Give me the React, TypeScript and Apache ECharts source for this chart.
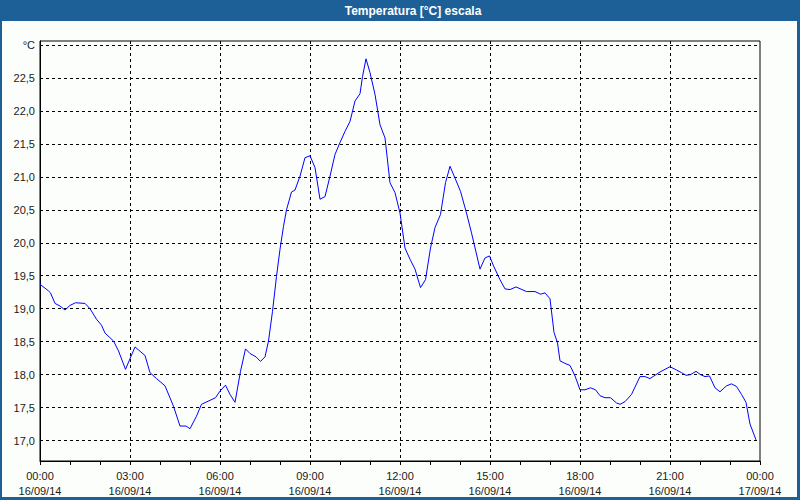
import React, { useEffect, useRef } from "react";
import * as echarts from "echarts";

// minutes since 16/09/14 00:00
const minutes = [
  0, 17, 21, 30, 40, 50, 60, 71, 90, 100, 113, 123, 130, 147, 157, 171, 190, 210, 220, 233,
  250, 267, 280, 292, 300, 313, 323, 340, 351, 360, 371, 380, 390, 401, 411, 420, 432, 441, 450, 457,
  465, 473, 480, 487, 493, 503, 510, 520, 530, 540, 550, 560, 570, 580, 590, 600, 610, 620, 630, 640,
  645, 652, 660, 670, 680, 690, 700, 710, 720, 730, 740, 750, 761, 771, 781, 790, 801, 811, 820, 830,
  841, 853, 863, 880, 890, 899, 907, 920, 930, 940, 952, 973, 990, 1001, 1010, 1020, 1028, 1035, 1040, 1050,
  1060, 1070, 1080, 1090, 1101, 1111, 1120, 1130, 1141, 1153, 1160, 1170, 1183, 1200, 1210, 1220, 1230, 1240, 1260, 1273,
  1283, 1292, 1301, 1312, 1321, 1330, 1339, 1350, 1360, 1373, 1383, 1393, 1403, 1412, 1420, 1432,
];
const temperatures = [
  19.37, 19.27, 19.24, 19.08, 19.04, 18.98, 19.05, 19.09, 19.08, 19.0, 18.84, 18.75, 18.63, 18.51, 18.36, 18.08, 18.42, 18.29, 18.03, 17.94,
  17.83, 17.52, 17.22, 17.22, 17.18, 17.37, 17.55, 17.61, 17.65, 17.75, 17.84, 17.7, 17.58, 18.05, 18.39, 18.32, 18.27, 18.2, 18.27, 18.51,
  18.96, 19.49, 19.9, 20.25, 20.5, 20.77, 20.8, 21.01, 21.29, 21.32, 21.14, 20.66, 20.7, 21.01, 21.34, 21.52, 21.69, 21.84, 22.15, 22.26,
  22.52, 22.79, 22.58, 22.25, 21.79, 21.59, 20.91, 20.76, 20.45, 19.92, 19.75, 19.6, 19.32, 19.44, 19.92, 20.23, 20.43, 20.91, 21.16, 20.98,
  20.78, 20.45, 20.15, 19.6, 19.77, 19.8, 19.65, 19.44, 19.3, 19.29, 19.33, 19.26, 19.26, 19.22, 19.24, 19.15, 18.64, 18.48, 18.21, 18.17,
  18.14, 17.98, 17.77, 17.77, 17.8, 17.77, 17.68, 17.65, 17.65, 17.57, 17.55, 17.59, 17.7, 17.97, 17.97, 17.94, 17.99, 18.04, 18.12, 18.07,
  18.03, 17.99, 18.0, 18.05, 18.0, 17.97, 17.98, 17.8, 17.74, 17.83, 17.86, 17.82, 17.7, 17.58, 17.25, 17.01,
];
const startDate = "16/09/14";
const endDate = "17/09/14";
const titleText = "Temperatura [°C] escala";
const unitLabel = "°C";

export default function App() {
  const ref = useRef<HTMLDivElement>(null);
  useEffect(() => {
    if (!ref.current) return;
    const chart = echarts.init(ref.current, undefined, { renderer: "svg" });
    const font = "Liberation Sans";
    chart.setOption({
      animation: false,
      backgroundColor: "#FCFEFC",
      textStyle: { fontFamily: font },
      graphic: [
        { type: "rect", shape: { x: 0, y: 0, width: 800, height: 21 }, style: { fill: "#1D5F97" }, z: 10 },
        { type: "rect", shape: { x: 0, y: 0, width: 2, height: 500 }, style: { fill: "#1D5F97" }, z: 10 },
        { type: "rect", shape: { x: 797, y: 0, width: 3, height: 500 }, style: { fill: "#1D5F97" }, z: 10 },
        { type: "rect", shape: { x: 0, y: 497, width: 800, height: 3 }, style: { fill: "#1D5F97" }, z: 10 },
        {
          type: "text",
          x: 413,
          y: 11,
          z: 11,
          style: {
            text: titleText,
            fill: "#FFFFFF",
            font: `bold 12px "${font}"`,
            align: "center",
            verticalAlign: "middle",
          },
        },
      ],
      grid: {
        left: 40,
        right: 40,
        top: 41,
        bottom: 39,
        show: true,
        borderColor: "#000",
        borderWidth: 1,
        backgroundColor: "transparent",
        containLabel: false,
      },
      xAxis: {
        type: "value",
        min: 0,
        max: 1440,
        interval: 180,
        axisLine: { show: true, lineStyle: { color: "#000", width: 1 } },
        axisTick: { show: true, length: 4, lineStyle: { color: "#000" } },
        minorTick: { show: true, splitNumber: 3, length: 4, lineStyle: { color: "#000" } },
        splitLine: {
          show: true,
          showMinLine: false,
          showMaxLine: false,
          lineStyle: { color: "#000", type: [3, 3], width: 1 },
        },
        axisLabel: {
          color: "#1a1a1a",
          fontSize: 11,
          fontFamily: font,
          lineHeight: 15,
          margin: 7,
          formatter: (v: number) => {
            const h = Math.floor(v / 60) % 24;
            const hh = String(h).padStart(2, "0");
            return `${hh}:00\n${v >= 1440 ? endDate : startDate}`;
          },
        },
      },
      yAxis: {
        type: "value",
        min: 16.69,
        max: 23.06,
        splitNumber: 12,
        minInterval: 0.5,
        maxInterval: 0.5,
        axisLine: { show: true, lineStyle: { color: "#000", width: 1 } },
        axisTick: { show: false },
        splitLine: {
          show: true,
          showMinLine: false,
          showMaxLine: false,
          lineStyle: { color: "#000", type: [3, 3], width: 1 },
        },
        axisLabel: {
          color: "#1a1a1a",
          fontSize: 11,
          fontFamily: font,
          margin: 5,
          showMinLabel: true,
          showMaxLabel: true,
          formatter: (v: number) => {
            const r = Math.round(v * 2) / 2;
            if (Math.abs(r - v) > 1e-6) return "";
            if (Math.abs(v - 23) < 1e-6) return unitLabel;
            return v.toFixed(1).replace(".", ",");
          },
        },
      },
      series: [
        {
          type: "line",
          data: minutes.map((m, i) => [m, temperatures[i]]),
          showSymbol: false,
          symbol: "none",
          lineStyle: { color: "#0000FF", width: 1 },
          itemStyle: { color: "#0000FF" },
          z: 5,
        },
      ],
    });
    return () => chart.dispose();
  }, []);
  return (
    <div
      ref={ref}
      style={{ position: "fixed", left: 0, top: 0, width: 800, height: 500 }}
    />
  );
}
